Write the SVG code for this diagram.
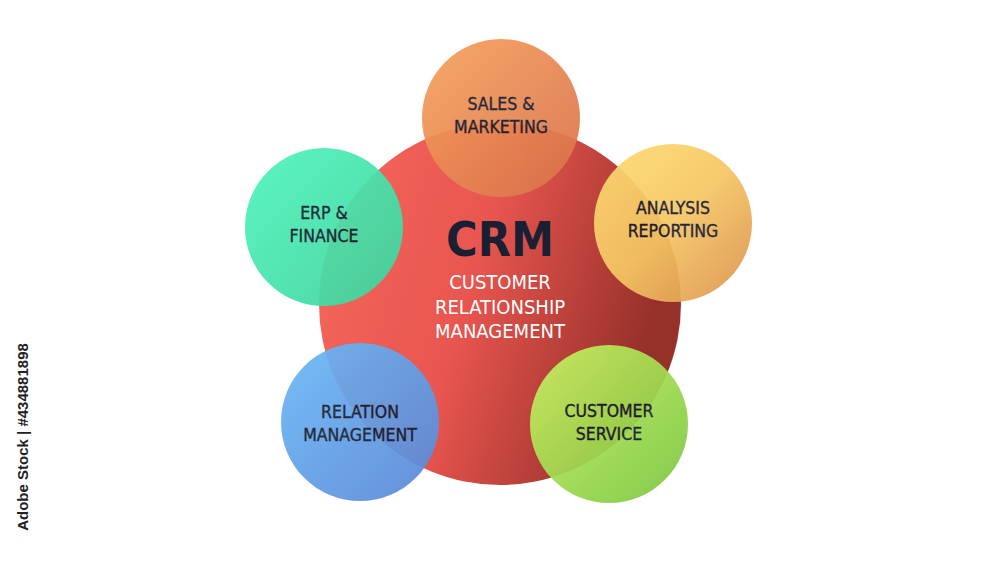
<svg xmlns="http://www.w3.org/2000/svg" width="1000" height="563" viewBox="0 0 1000 563">
<defs>
<linearGradient id="gRed" x1="0" y1="0" x2="1" y2="0.3"><stop offset="0" stop-color="#f5685e"/><stop offset="0.5" stop-color="#e9564f"/><stop offset="1" stop-color="#96302a"/></linearGradient>
<linearGradient id="gSales" x1="0" y1="0" x2="1" y2="1"><stop offset="0" stop-color="#f7a25d"/><stop offset="1" stop-color="#d9704a"/></linearGradient>
<linearGradient id="gAna" x1="0" y1="0" x2="1" y2="1"><stop offset="0" stop-color="#fedd72"/><stop offset="0.5" stop-color="#f6c664"/><stop offset="1" stop-color="#d98f4c"/></linearGradient>
<linearGradient id="gCust" x1="0" y1="0" x2="1" y2="1"><stop offset="0" stop-color="#ccf464"/><stop offset="1" stop-color="#78c43e"/></linearGradient>
<linearGradient id="gRel" x1="0" y1="0" x2="1" y2="1"><stop offset="0" stop-color="#6cbaf8"/><stop offset="1" stop-color="#5a86d6"/></linearGradient>
<linearGradient id="gErp" x1="0" y1="0" x2="1" y2="1"><stop offset="0" stop-color="#4ff5bd"/><stop offset="1" stop-color="#3fd29c"/></linearGradient>
</defs>
<style>
.lbl{font-family:"DejaVu Sans Condensed","DejaVu Sans",sans-serif;font-size:17.5px;fill:#141a2e;stroke:#141a2e;stroke-width:0.35;text-anchor:middle}
.sub{font-family:"DejaVu Sans Condensed","DejaVu Sans",sans-serif;font-size:20px;fill:#ffffff;text-anchor:middle}
.sm{opacity:0.93}
</style>
<rect width="1000" height="563" fill="#ffffff"/>
<g id="crm">
<circle cx="500" cy="304" r="181" fill="url(#gRed)"/>
</g>
<g id="connectors"/>
<g id="sales" class="sm"><circle cx="501" cy="118" r="79" fill="url(#gSales)"/>
<text class="lbl" x="501" y="110">SALES &amp;</text><text class="lbl" x="501" y="133">MARKETING</text></g>
<g id="analysis" class="sm"><circle cx="673" cy="223" r="79" fill="url(#gAna)"/>
<text class="lbl" x="673" y="214">ANALYSIS</text><text class="lbl" x="673" y="237">REPORTING</text></g>
<g id="customer" class="sm"><circle cx="609" cy="424" r="79" fill="url(#gCust)"/>
<text class="lbl" x="609" y="417">CUSTOMER</text><text class="lbl" x="609" y="440">SERVICE</text></g>
<g id="relation" class="sm"><circle cx="360" cy="422" r="79" fill="url(#gRel)"/>
<text class="lbl" x="360" y="418">RELATION</text><text class="lbl" x="360" y="441">MANAGEMENT</text></g>
<g id="erp" class="sm"><circle cx="324" cy="227" r="79" fill="url(#gErp)"/>
<text class="lbl" x="324" y="219">ERP &amp;</text><text class="lbl" x="324" y="242">FINANCE</text></g>
<g id="crmtext">
<text x="500" y="256" font-family="'DejaVu Sans Condensed','DejaVu Sans',sans-serif" font-size="48" font-weight="bold" fill="#1a1f33" text-anchor="middle">CRM</text>
<text class="sub" x="500" y="289">CUSTOMER</text>
<text class="sub" x="500" y="314">RELATIONSHIP</text>
<text class="sub" x="500" y="338">MANAGEMENT</text>
</g>
<text transform="translate(28,437) rotate(-90)" font-family="'Liberation Sans',sans-serif" font-size="15" font-weight="bold" fill="#222" text-anchor="middle">Adobe Stock | #434881898</text>
</svg>
